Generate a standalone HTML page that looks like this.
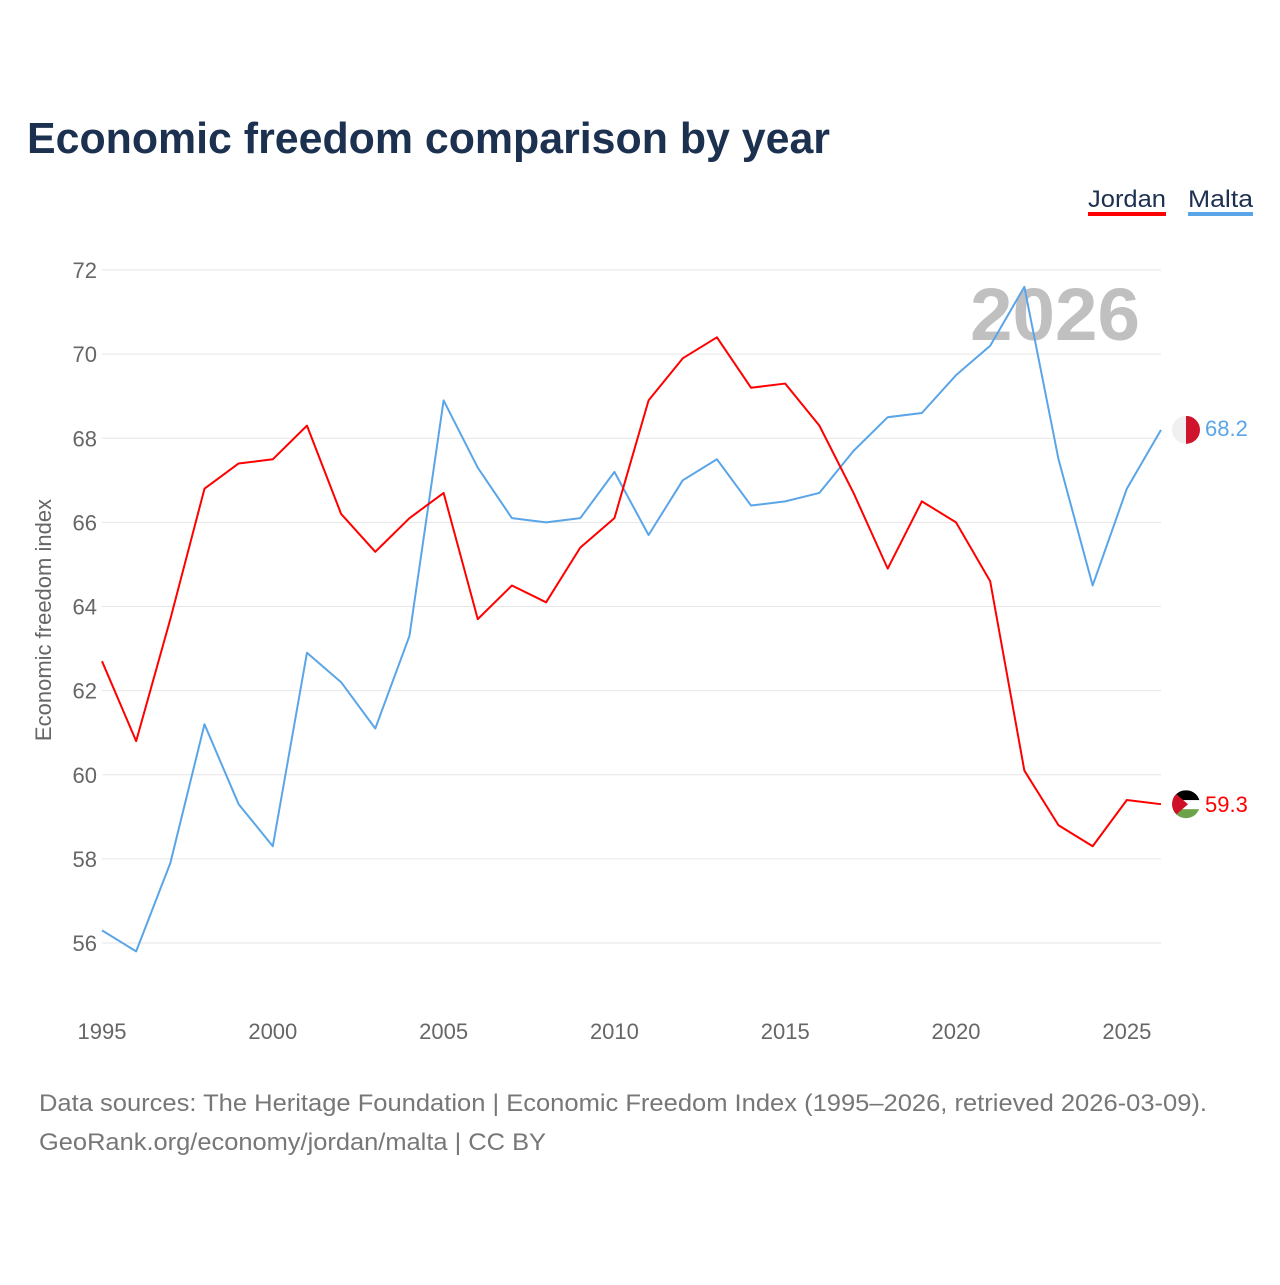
<!DOCTYPE html>
<html><head><meta charset="utf-8">
<style>
html,body{margin:0;padding:0;background:#fff;}
body{width:1280px;height:1280px;overflow:hidden;font-family:"Liberation Sans",sans-serif;}
</style></head>
<body>
<svg width="1280" height="1280" viewBox="0 0 1280 1280" xmlns="http://www.w3.org/2000/svg">
<text x="27" y="153" font-size="44" font-weight="bold" fill="#1c3050" textLength="803" lengthAdjust="spacingAndGlyphs">Economic freedom comparison by year</text>
<g>
<text x="1088" y="207" font-size="24" fill="#1c3050" textLength="78" lengthAdjust="spacingAndGlyphs">Jordan</text>
<rect x="1088" y="212" width="78" height="4" fill="#ff0000"/>
<text x="1188" y="207" font-size="24" fill="#1c3050" textLength="65" lengthAdjust="spacingAndGlyphs">Malta</text>
<rect x="1188" y="212" width="65" height="4" fill="#5aa5e8"/>
</g>
<g id="grid"></g>
<text x="1055" y="340" font-size="74" font-weight="bold" fill="#c0c0c0" text-anchor="middle" textLength="170" lengthAdjust="spacingAndGlyphs">2026</text>
<g id="series"></g>
<text transform="translate(51,620) rotate(-90)" font-size="22" fill="#666" text-anchor="middle">Economic freedom index</text>
<text x="39" y="1111" font-size="24" fill="#777" textLength="1168" lengthAdjust="spacingAndGlyphs">Data sources: The Heritage Foundation | Economic Freedom Index (1995–2026, retrieved 2026-03-09).</text>
<text x="39" y="1150" font-size="24" fill="#777" textLength="507" lengthAdjust="spacingAndGlyphs">GeoRank.org/economy/jordan/malta | CC BY</text>
</svg>
<script>
const years=[1995,1996,1997,1998,1999,2000,2001,2002,2003,2004,2005,2006,2007,2008,2009,2010,2011,2012,2013,2014,2015,2016,2017,2018,2019,2020,2021,2022,2023,2024,2025,2026];
const jordan=[62.7,60.8,63.7,66.8,67.4,67.5,68.3,66.2,65.3,66.1,66.7,63.7,64.5,64.1,65.4,66.1,68.9,69.9,70.4,69.2,69.3,68.3,66.7,64.9,66.5,66.0,64.6,60.1,58.8,58.3,59.4,59.3];
const malta=[56.3,55.8,57.9,61.2,59.3,58.3,62.9,62.2,61.1,63.3,68.9,67.3,66.1,66.0,66.1,67.2,65.7,67.0,67.5,66.4,66.5,66.7,67.7,68.5,68.6,69.5,70.2,71.6,67.5,64.5,66.8,68.2];
const yTicks=[56,58,60,62,64,66,68,70,72];
const xTicks=[1995,2000,2005,2010,2015,2020,2025];
const NS="http://www.w3.org/2000/svg";
const x=v=>102+(v-1995)*(1161-102)/31;
const y=v=>270+(72-v)*(943-270)/16;
const grid=document.getElementById('grid');
function mk(tag,attrs,parent){const e=document.createElementNS(NS,tag);for(const k in attrs)e.setAttribute(k,attrs[k]);parent.appendChild(e);return e;}
yTicks.forEach(t=>{
  const l=mk('line',{x1:102,x2:1161,y1:y(t),y2:y(t),stroke:'#e6e6e6','stroke-width':1},grid);
  
  
  const tx=mk('text',{x:97,y:y(t)+8,'font-size':22,fill:'#666','text-anchor':'end'},grid);
  tx.textContent=t;
  
  
});
xTicks.forEach(t=>{
  const tx=mk('text',{x:x(t),y:1039,'font-size':22,fill:'#666','text-anchor':'middle'},grid);
  tx.textContent=t;
  
  
});
const sg=document.getElementById('series');
function line(vals,color,name){
  const p=mk('polyline',{points:vals.map((v,i)=>x(years[i])+','+y(v)).join(' '),fill:'none',stroke:color,'stroke-width':2,'stroke-linejoin':'round'},sg);
  
  
}
line(malta,'#5aa5e8','malta-line');
line(jordan,'#ff0000','jordan-line');
function endLabel(vals,color,name,flag,dy){
  const v=vals[vals.length-1], cy=y(v), cx=1186;
  const g=mk('g',{},sg);
  
  
  flag(g,cx,cy);
  const t=mk('text',{x:1205,y:cy+dy,'font-size':22,fill:color},sg);
  t.textContent=v.toFixed(1);
  
  
}
endLabel(malta,'#5aa5e8','malta',(g,cx,cy)=>{
  mk('circle',{cx:cx,cy:cy,r:14,fill:'#f0f0f0'},g);
  mk('path',{d:`M${cx} ${cy-14} A14 14 0 0 1 ${cx} ${cy+14} Z`,fill:'#cf142b'},g);
},6);
endLabel(jordan,'#ff0000','jordan',(g,cx,cy)=>{
  const defs=mk('defs',{},g);
  const cp=mk('clipPath',{id:'jc'},defs);
  mk('circle',{cx:cx,cy:cy,r:14},cp);
  const gg=mk('g',{'clip-path':'url(#jc)'},g);
  mk('rect',{x:cx-14,y:cy-14,width:28,height:10,fill:'#000'},gg);
  mk('rect',{x:cx-14,y:cy-4,width:28,height:9,fill:'#fff'},gg);
  mk('rect',{x:cx-14,y:cy+5,width:28,height:10,fill:'#6aa34a'},gg);
  mk('path',{d:`M${cx-14} ${cy-14} L${cx+2} ${cy} L${cx-14} ${cy+14} Z`,fill:'#ce1126'},gg);
},8);
</script>
</body></html>
